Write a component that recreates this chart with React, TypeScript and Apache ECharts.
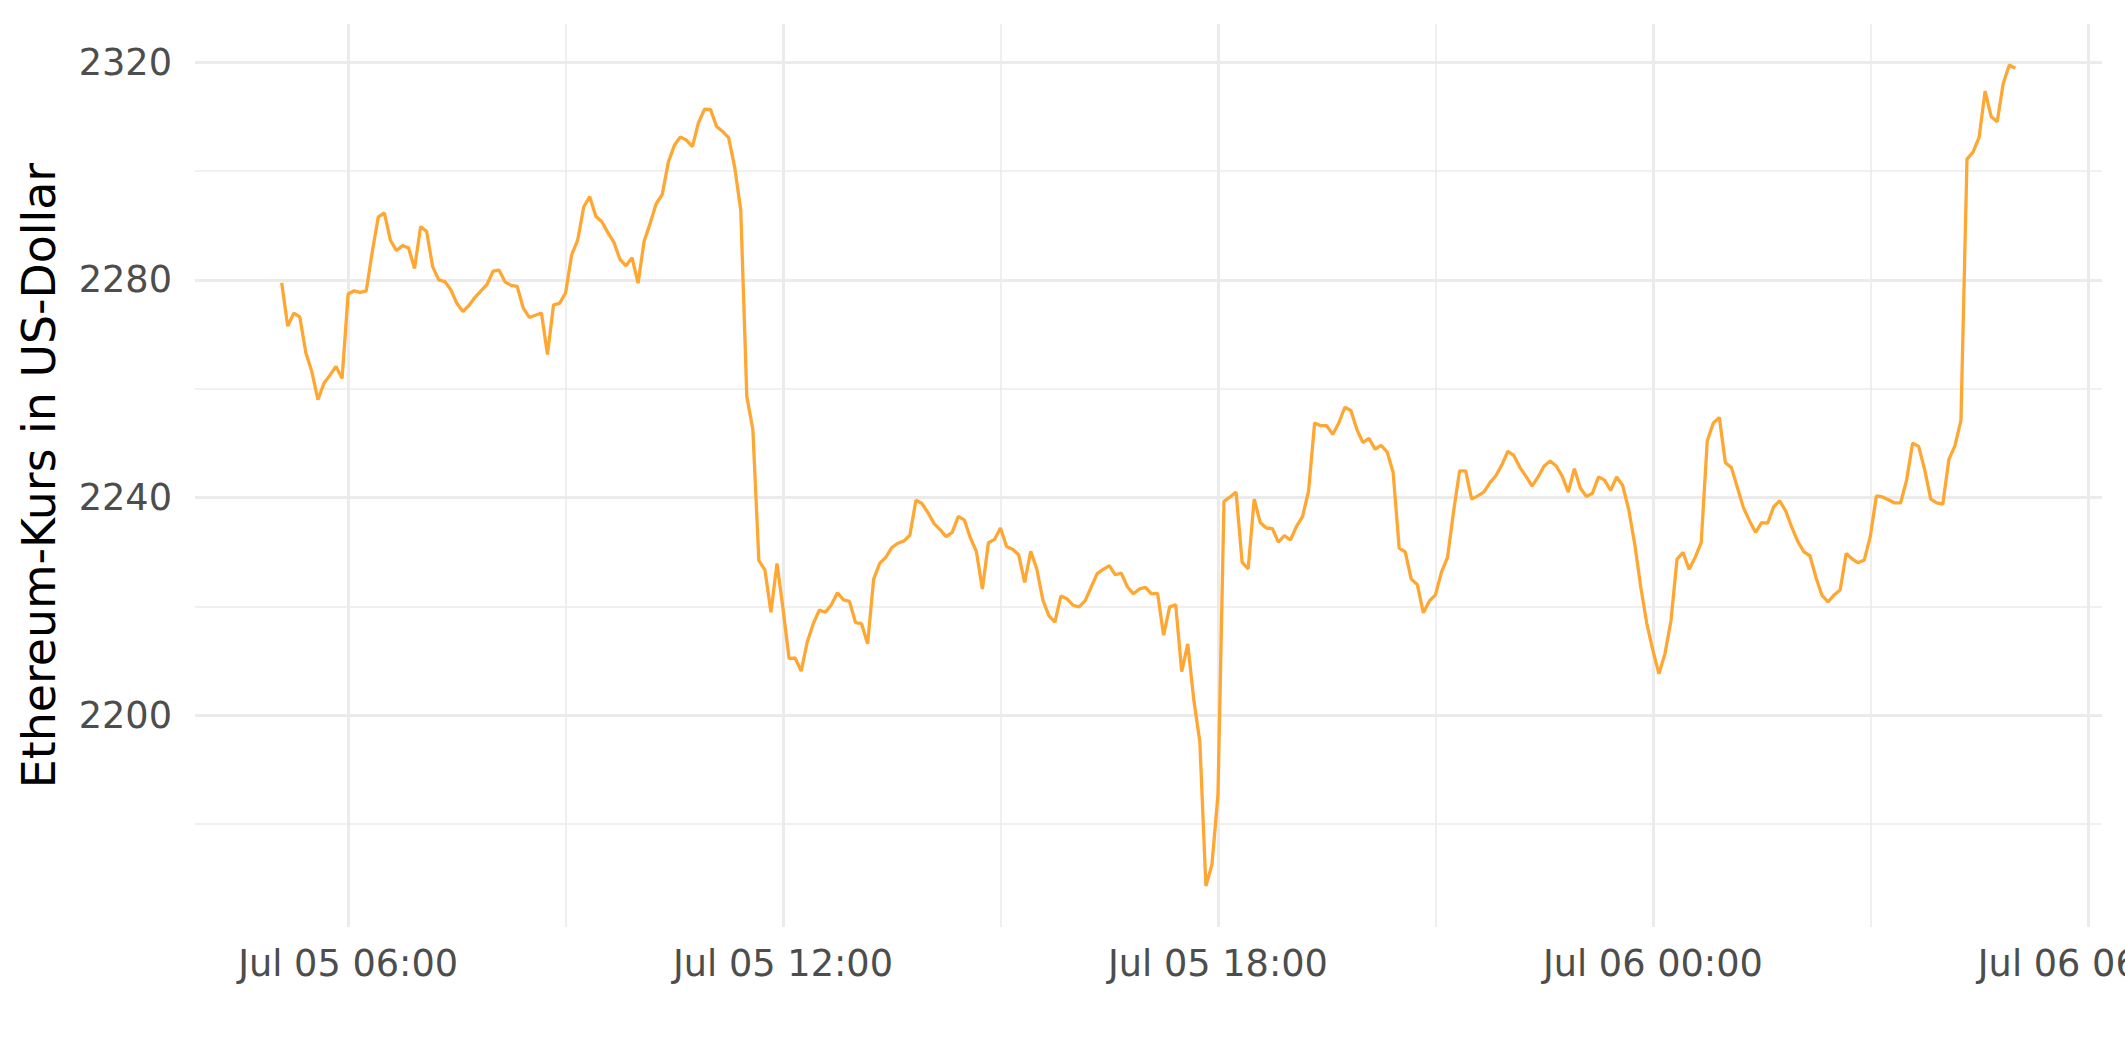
import React, { useEffect, useRef } from "react";
import * as echarts from "echarts";

// Ethereum price (USD), 5-minute steps, from Jul 05 05:05 to Jul 06 05:00
const START_HOUR = 5 + 5 / 60; // hours since Jul 05 00:00
const STEP_HOURS = 5 / 60;

const pricesA = [
  2279.5, 2271.5, 2273.9, 2273.2, 2266.6, 2263.1, 2258.0, 2261.0, 2262.5, 2264.1, 2261.9, 2277.4,
  2278.0, 2277.7, 2278.0, 2285.2, 2291.6, 2292.3, 2287.3, 2285.4, 2286.3, 2285.9, 2282.1, 2289.8,
  2288.9, 2282.4, 2280.0, 2279.7, 2278.2, 2275.7, 2274.2, 2275.3, 2276.8, 2278.0, 2279.2, 2281.6,
  2281.8, 2279.6, 2279.0, 2278.8, 2274.8, 2273.1, 2273.5, 2273.9, 2266.3, 2275.4, 2275.7, 2277.6,
  2284.6, 2287.3, 2293.4, 2295.3, 2291.7, 2290.7, 2288.7, 2286.9, 2283.8, 2282.6, 2284.1, 2279.4,
  2287.1, 2290.4, 2294.0, 2295.7, 2301.6, 2304.7, 2306.3, 2305.7, 2304.5, 2308.9, 2311.4, 2311.3,
];
const pricesB = [
  2308.2, 2307.3, 2306.1, 2300.7, 2292.8, 2258.6, 2252.5, 2228.4, 2226.7, 2218.9, 2227.9, 2219.5,
  2210.4, 2210.5, 2208.1, 2213.4, 2216.8, 2219.3, 2218.9, 2220.3, 2222.5, 2221.2, 2220.9, 2217.0,
  2216.8, 2213.1, 2225.0, 2227.9, 2229.0, 2230.8, 2231.6, 2232.0, 2233.1, 2239.5, 2238.9, 2237.2,
  2235.2, 2234.1, 2232.8, 2233.6, 2236.5, 2235.9, 2232.6, 2230.1, 2223.2, 2231.7, 2232.3, 2234.4,
  2231.0, 2230.5, 2229.5, 2224.4, 2230.1, 2226.9, 2221.2, 2218.3, 2217.1, 2221.9, 2221.4, 2220.2,
  2219.9, 2221.0, 2223.5, 2226.0, 2226.8, 2227.5, 2225.8, 2226.1, 2223.6, 2222.3, 2223.2, 2223.5,
];
const pricesC = [
  2222.3, 2222.4, 2214.7, 2219.9, 2220.3, 2208.0, 2213.1, 2202.8, 2195.1, 2168.6, 2172.5, 2185.4,
  2239.3, 2240.1, 2241.0, 2228.1, 2226.9, 2239.7, 2235.4, 2234.4, 2234.3, 2231.8, 2233.0, 2232.2,
  2234.7, 2236.5, 2241.2, 2253.7, 2253.2, 2253.2, 2251.6, 2253.7, 2256.6, 2256.0, 2252.5, 2250.1,
  2250.9, 2248.9, 2249.6, 2248.4, 2244.6, 2230.7, 2230.0, 2225.0, 2224.0, 2218.8, 2221.0, 2222.1,
  2226.3, 2229.0, 2237.4, 2244.9, 2244.9, 2239.7, 2240.3, 2241.0, 2242.7, 2244.0, 2246.0, 2248.5,
  2247.7, 2245.5, 2243.9, 2242.1, 2243.8, 2245.8, 2246.7, 2245.8, 2243.9, 2241.0, 2245.3, 2241.7,
];
const pricesD = [
  2240.2, 2240.8, 2243.8, 2243.2, 2241.3, 2243.8, 2242.2, 2237.8, 2231.4, 2223.5, 2216.8, 2211.9,
  2207.6, 2211.3, 2217.4, 2228.7, 2229.9, 2226.8, 2229.0, 2231.7, 2250.4, 2253.7, 2254.7, 2246.4,
  2245.5, 2241.8, 2238.1, 2235.7, 2233.6, 2235.4, 2235.3, 2238.3, 2239.4, 2237.5, 2234.5, 2231.9,
  2230.0, 2229.3, 2225.3, 2222.0, 2220.8, 2222.1, 2223.0, 2229.7, 2228.7, 2228.0, 2228.5, 2232.9,
  2240.3, 2240.1, 2239.6, 2239.0, 2239.0, 2243.2, 2250.0, 2249.4, 2245.1, 2239.7, 2239.0, 2238.8,
  2247.0, 2249.5, 2254.2, 2302.2, 2303.5, 2306.2, 2314.7, 2310.0, 2309.1, 2316.1, 2319.5, 2318.9,
];

const xMajorTicks = [6, 12, 18, 24, 30];
const xMinorTicks = [9, 15, 21, 27];
const yMajorTicks = [2200, 2240, 2280, 2320];
const yMinorTicks = [2180, 2220, 2260, 2300];

const yTitle = "Ethereum-Kurs in US-Dollar";

function fmtTime(h: number): string {
  const day = 5 + Math.floor(h / 24 + 1e-9);
  const hh = Math.round(h - (day - 5) * 24);
  const p = (n: number) => (n < 10 ? "0" + n : "" + n);
  return "Jul " + p(day) + " " + p(hh) + ":00";
}

export default function App() {
  const ref = useRef<HTMLDivElement>(null);
  useEffect(() => {
    if (!ref.current) return;
    const chart = echarts.init(ref.current, undefined, { renderer: "svg" });
    const prices = [...pricesA, ...pricesB, ...pricesC, ...pricesD];
    const data = prices.map((v, i) => [START_HOUR + i * STEP_HOURS, v]);
    const xFirst = START_HOUR;
    const xLast = START_HOUR + (prices.length - 1) * STEP_HOURS;
    const xPad = (xLast - xFirst) * 0.05;
    const yLo = Math.min(...prices);
    const yHi = Math.max(...prices);
    const yPad = (yHi - yLo) * 0.05;
    const font = "DejaVu Sans";
    const gridColor = "#EBEBEB";
    const markData: any[] = [];
    xMajorTicks.forEach((v) => markData.push({ xAxis: v, lineStyle: { color: gridColor, width: 3, type: "solid" } }));
    xMinorTicks.forEach((v) => markData.push({ xAxis: v, lineStyle: { color: gridColor, width: 1.6, type: "solid" } }));
    yMajorTicks.forEach((v) => markData.push({ yAxis: v, lineStyle: { color: gridColor, width: 3, type: "solid" } }));
    yMinorTicks.forEach((v) => markData.push({ yAxis: v, lineStyle: { color: gridColor, width: 1.6, type: "solid" } }));

    chart.setOption({
      animation: false,
      backgroundColor: "#ffffff",
      grid: {
        left: 195,
        right: 23,
        top: 24,
        bottom: 135,
        containLabel: false,
        outerBoundsMode: "none",
      },
      xAxis: {
        type: "value",
        min: xFirst - xPad,
        max: xLast + xPad,
        axisLine: { show: false },
        axisTick: { show: false },
        splitLine: { show: false },
        axisLabel: {
          customValues: xMajorTicks,
          formatter: (v: number) => fmtTime(v),
          color: "#4D4D4D",
          fontFamily: font,
          fontSize: 36.7,
          margin: 18,
          hideOverlap: false,
        },
      },
      yAxis: {
        type: "value",
        min: yLo - yPad,
        max: yHi + yPad,
        axisLine: { show: false },
        axisTick: { show: false },
        splitLine: { show: false },
        axisLabel: {
          customValues: yMajorTicks,
          formatter: (v: number) => String(Math.round(v)),
          color: "#4D4D4D",
          fontFamily: font,
          fontSize: 36.7,
          margin: 23,
        },
        name: yTitle,
        nameLocation: "middle",
        nameRotate: 90,
        nameGap: 133,
        nameTextStyle: { color: "#000000", fontFamily: font, fontSize: 45.8 },
      },
      series: [
        {
          type: "line",
          data: [[xFirst, prices[0]]],
          symbol: "none",
          lineStyle: { opacity: 0 },
          silent: true,
          z: 1,
          markLine: {
            silent: true,
            symbol: ["none", "none"],
            label: { show: false },
            animation: false,
            data: markData,
          },
        },
        {
          type: "line",
          data,
          symbol: "none",
          z: 10,
          lineStyle: { color: "#FFA733", width: 3.3 },
          itemStyle: { color: "#FFA733" },
        },
      ],
    });
    return () => chart.dispose();
  }, []);
  return (
    <div
      ref={ref}
      style={{ position: "fixed", left: 0, top: 0, width: 2125, height: 1062, background: "#fff" }}
    />
  );
}
